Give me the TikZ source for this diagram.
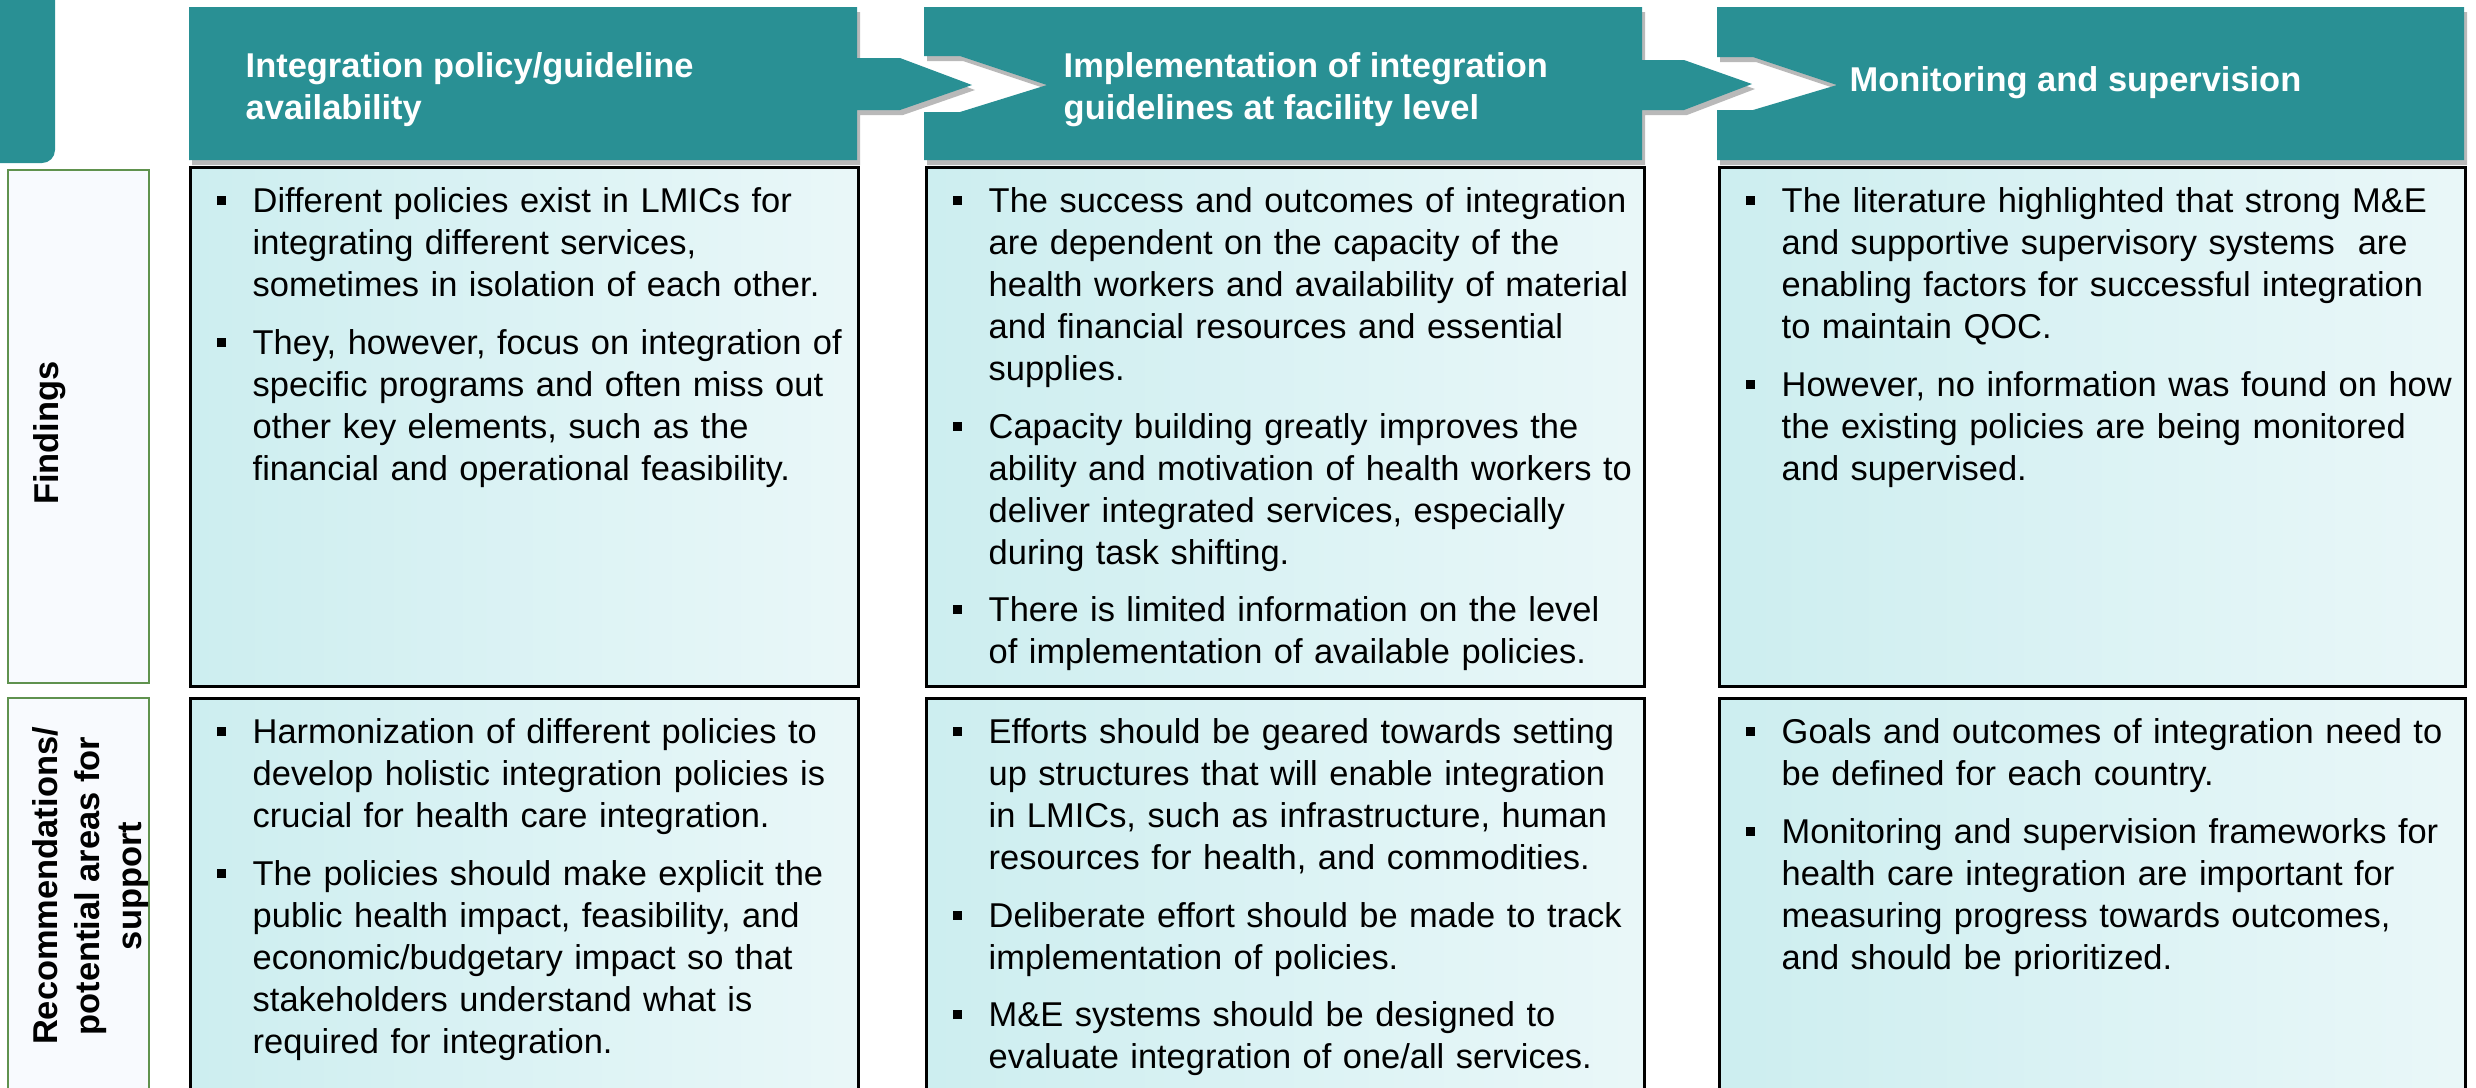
\documentclass[tikz,border=0pt]{standalone}
\usepackage{fontspec}
\setmainfont{Liberation Sans}
\usetikzlibrary{positioning}
\usetikzlibrary{calc}
\usetikzlibrary{shadows}
\definecolor{hdrteal}{RGB}{41,144,148}
\definecolor{cellcyan}{RGB}{203,237,239}
\definecolor{cellwhite}{RGB}{248,252,253}
\definecolor{labfill}{RGB}{248,250,254}
\definecolor{labgreen}{RGB}{96,146,78}
\pgfdeclarehorizontalshading{cellshade}{100bp}{color(0bp)=(cellcyan); color(22bp)=(cellcyan); color(100bp)=(cellwhite)}
\newcommand{\bul}[1]{\par\noindent\makebox[0.36cm][l]{\rule[0.075cm]{0.09cm}{0.09cm}}\begin{tabular}[t]{@{}l@{}}#1\end{tabular}\par}
\newcommand{\bulgap}{\vspace{0.12cm}}
\tikzset{
  bodyfont/.style={font=\fontsize{9.8}{11.95}\selectfont}
}

\begin{document}
\begin{tikzpicture}
    [header/.style={fill=hdrteal, drop shadow={shadow xshift=0.03cm, shadow yshift=-0.05cm, opacity=0.5, fill=black!55}},
    htext/.style={text=white, font=\bfseries\fontsize{9.8}{11.95}\selectfont, align=left, anchor=west, inner sep=0pt},
    cell/.style={draw=black, line width=0.025cm, shading=cellshade, anchor=north west, inner sep=0pt},
    ctext/.style={bodyfont, text width=7.6cm, anchor=north west, inner sep=0pt},
    rowlab/.style={draw=labgreen, fill=labfill, line width=0.02cm, anchor=north west, minimum width=1.41cm, inner sep=0pt},
    labtext/.style={font=\bfseries\fontsize{9.8}{11.95}\selectfont, rotate=90, align=center, inner sep=0pt}]
    \useasboundingbox (0,0) rectangle (24.76,-10.87);
    \clip (0,0) rectangle (24.76,-10.87);

    \fill[hdrteal] (-0.2,0.2) -- (0.55,0.2) {[rounded corners=0.13cm] -- (0.55,-1.63) -- (-0.2,-1.63)} -- cycle;

    \fill[header] (1.89,-0.07) -- (8.57,-0.07) -- (8.57,-0.58) -- (9.00,-0.58) -- (9.72,-0.85) -- (9.00,-1.10) -- (8.57,-1.10) -- (8.57,-1.60) -- (1.89,-1.60) -- cycle;
    \fill[header] (9.24,-0.07) -- (16.42,-0.07) -- (16.42,-0.60) -- (16.84,-0.60) -- (17.52,-0.84) -- (16.84,-1.10) -- (16.42,-1.10) -- (16.42,-1.60) -- (9.24,-1.60) -- (9.24,-1.12) -- (9.60,-1.12) -- (10.47,-0.85) -- (9.60,-0.56) -- (9.24,-0.56) -- cycle;
    \fill[header] (17.17,-0.07) -- (24.64,-0.07) -- (24.64,-1.60) -- (17.17,-1.60) -- (17.17,-1.10) -- (17.53,-1.10) -- (18.37,-0.85) -- (17.53,-0.57) -- (17.17,-0.57) -- cycle;
    \node[htext] (H1) at (2.45,-0.895) {Integration policy/guideline\\availability};
    \node[htext] (H2) at (10.63,-0.895) {Implementation of integration\\guidelines at facility level};
    \node[htext] (H3) at (18.49,-0.825) {Monitoring and supervision};

    \node[rowlab, minimum height=5.13cm] (labF) at (0.07,-1.69) {};
    \node[rowlab, minimum height=4.5cm] (labR) at (0.07,-6.97) {};
    \node[labtext] (tF) at (0.50,-4.33) {Findings};
    \node[labtext] (tR) at (0.905,-8.86) {Recommendations/\\potential areas for\\support};

    \node[cell, minimum width=6.68cm, minimum height=5.19cm] (cF1) at (1.89,-1.66) {};
    \node[cell, minimum width=7.18cm, minimum height=5.19cm] (cF2) at (9.25,-1.66) {};
    \node[cell, minimum width=7.46cm, minimum height=5.19cm] (cF3) at (17.18,-1.66) {};
    \node[cell, minimum width=6.68cm, minimum height=4.5cm] (cR1) at (1.89,-6.97) {};
    \node[cell, minimum width=7.18cm, minimum height=4.5cm] (cR2) at (9.25,-6.97) {};
    \node[cell, minimum width=7.46cm, minimum height=4.5cm] (cR3) at (17.18,-6.97) {};

    \node[ctext] (tF1) at ([shift={(0.27,-0.04)}]cF1.north west) {%
      \bul{Different policies exist in LMICs for\\integrating different services,\\sometimes in isolation of each other.}\bulgap
      \bul{They, however, focus on integration of\\specific programs and often miss out\\other key elements, such as the\\financial and operational feasibility.}};
    \node[ctext] (tF2) at ([shift={(0.27,-0.04)}]cF2.north west) {%
      \bul{The success and outcomes of integration\\are dependent on the capacity of the\\health workers and availability of material\\and financial resources and essential\\supplies.}\bulgap
      \bul{Capacity building greatly improves the\\ability and motivation of health workers to\\deliver integrated services, especially\\during task shifting.}\bulgap
      \bul{There is limited information on the level\\of implementation of available policies.}};
    \node[ctext] (tF3) at ([shift={(0.27,-0.04)}]cF3.north west) {%
      \bul{The literature highlighted that strong M\&E\\and supportive supervisory systems\ \ are\\enabling factors for successful integration\\to maintain QOC.}\bulgap
      \bul{However, no information was found on how\\the existing policies are being monitored\\and supervised.}};
    \node[ctext] (tR1) at ([shift={(0.27,-0.04)}]cR1.north west) {%
      \bul{Harmonization of different policies to\\develop holistic integration policies is\\crucial for health care integration.}\bulgap
      \bul{The policies should make explicit the\\public health impact, feasibility, and\\economic/budgetary impact so that\\stakeholders understand what is\\required for integration.}};
    \node[ctext] (tR2) at ([shift={(0.27,-0.04)}]cR2.north west) {%
      \bul{Efforts should be geared towards setting\\up structures that will enable integration\\in LMICs, such as infrastructure, human\\resources for health, and commodities.}\bulgap
      \bul{Deliberate effort should be made to track\\implementation of policies.}\bulgap
      \bul{M\&E systems should be designed to\\evaluate integration of one/all services.}};
    \node[ctext] (tR3) at ([shift={(0.27,-0.04)}]cR3.north west) {%
      \bul{Goals and outcomes of integration need to\\be defined for each country.}\bulgap
      \bul{Monitoring and supervision frameworks for\\health care integration are important for\\measuring progress towards outcomes,\\and should be prioritized.}};
\end{tikzpicture}
\end{document}
